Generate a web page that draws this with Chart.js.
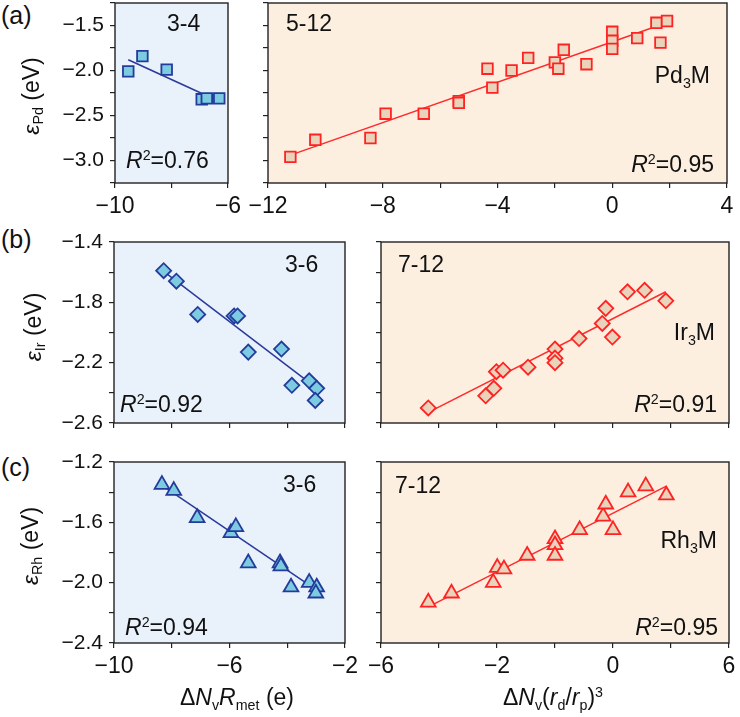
<!DOCTYPE html>
<html>
<head>
<meta charset="utf-8">
<script src="https://cdn.jsdelivr.net/npm/chart.js@4.4.0/dist/chart.umd.min.js"></script>
<style>
  body { margin: 0; background: #fff; width: 740px; height: 717px; overflow: hidden; position: relative;
         font-family: "Liberation Sans", Arial, sans-serif; }
  canvas { position: absolute; }
  .t { position: absolute; white-space: nowrap; color: #111; line-height: 1; }
  .t sub { font-size: 0.62em; vertical-align: -0.32em; line-height: 0; }
  .t sup { font-size: 0.62em; vertical-align: 0.55em; line-height: 0; }
</style>
</head>
<body>
<script>
// (a) Pd3M, groups 3-4 and 5-12
const pdLowX = [-9.53, -9.03, -8.17, -6.93, -6.75, -6.31];
const pdLowY = [-2.01, -1.84, -1.99, -2.32, -2.31, -2.31];
const pdLowFitX = [-9.53, -6.96];
const pdLowFitY = [-1.88, -2.25];

const pdHighX = [-11.22, -10.35, -8.43, -7.90, -6.57, -5.35, -5.35, -4.35, -4.18, -3.51, -2.93,
                 -2.00, -1.88, -1.69, -0.90, 0, 0, 0, 0.87, 1.54, 1.68, 1.91];
const pdHighY = [-2.96, -2.77, -2.75, -2.48, -2.48, -2.34, -2.36, -1.98, -2.19, -2.00, -1.86,
                 -1.91, -1.98, -1.77, -1.93, -1.57, -1.67, -1.76, -1.64, -1.47, -1.69, -1.45];
const pdHighFitX = [-11.22, 1.89];
const pdHighFitY = [-2.94, -1.47];

// (b) Ir3M, groups 3-6 and 7-12
const irLowX = [-8.28, -7.84, -7.10, -5.84, -5.72, -5.35, -4.20, -3.84, -3.24, -2.98, -3.03];
const irLowY = [-1.59, -1.66, -1.88, -1.89, -1.89, -2.13, -2.11, -2.35, -2.32, -2.37, -2.45];
const irLowFitX = [-8.18, -3.04];
const irLowFitY = [-1.61, -2.36];

const irHighX = [-4.37, -2.39, -2.11, -2.02, -1.79, -0.93, 0, 0, 0, 0.83, 1.63, 1.75, 1.98, 2.50, 3.09, 3.82];
const irHighY = [-2.50, -2.42, -2.37, -2.26, -2.25, -2.23, -2.11, -2.17, -2.20, -2.04, -1.94, -1.84, -2.03, -1.73, -1.72, -1.79];
const irHighFitX = [-4.37, 3.82];
const irHighFitY = [-2.53, -1.73];

// (c) Rh3M, groups 3-6 and 7-12
const rhLowX = [-8.34, -7.93, -7.12, -5.95, -5.78, -5.35, -4.25, -4.22, -3.87, -3.24, -2.98, -3.01];
const rhLowY = [-1.35, -1.39, -1.57, -1.67, -1.63, -1.87, -1.87, -1.89, -2.03, -2.00, -2.03, -2.07];
const rhLowFitX = [-8.30, -2.98];
const rhLowFitY = [-1.36, -2.05];

const rhHighX = [-4.37, -3.57, -2.13, -1.99, -1.76, -0.96, 0, 0, 0, 0.85, 1.66, 1.75, 2.00, 2.52, 3.13, 3.84];
const rhHighY = [-2.13, -2.07, -2.00, -1.90, -1.91, -1.82, -1.71, -1.75, -1.82, -1.65, -1.56, -1.48, -1.65, -1.40, -1.36, -1.42];
const rhHighFitX = [-4.37, 3.84];
const rhHighFitY = [-2.16, -1.36];

// tick labels (value -> text)
const pdYTickVals = [-3.0, -2.5, -2.0, -1.5];
const pdYTickText = ['−3.0', '−2.5', '−2.0', '−1.5'];
const irYTickVals = [-2.6, -2.2, -1.8, -1.4];
const irYTickText = ['−2.6', '−2.2', '−1.8', '−1.4'];
const rhYTickVals = [-2.4, -2.0, -1.6, -1.2];
const rhYTickText = ['−2.4', '−2.0', '−1.6', '−1.2'];
const pdLowXTickVals = [-10, -6];
const pdLowXTickText = ['−10', '−6'];
const pdHighXTickVals = [-12, -8, -4, 0, 4];
const pdHighXTickText = ['−12', '−8', '−4', '0', '4'];
const lowXTickVals = [-10, -6, -2];
const lowXTickText = ['−10', '−6', '−2'];
const highXTickVals = [-6, -2, 2, 6];
const highXTickText = ['−6', '−2', '0', '6'];

const FONT = '"Liberation Sans", Arial, sans-serif';
const BLUE = { bg: '#e9f1fa', fill: '#7dcbe1', edge: '#233c9c', line: '#2a3a9c' };
const RED = { bg: '#fdefe0', fill: '#ead3bb', edge: '#ff2222', line: '#ff2a2a' };
const ML = 70, MT = 12, MR = 24, MB = 40;

const panelPlugin = {
  id: 'panel',
  beforeDraw(chart, args, o) {
    const a = chart.chartArea, ctx = chart.ctx;
    ctx.save();
    ctx.fillStyle = o.bg;
    ctx.fillRect(a.left, a.top, a.right - a.left, a.bottom - a.top);
    ctx.restore();
  },
  afterDraw(chart) {
    const a = chart.chartArea, ctx = chart.ctx;
    ctx.save();
    ctx.strokeStyle = '#222';
    ctx.lineWidth = 1.4;
    ctx.strokeRect(a.left, a.top, a.right - a.left, a.bottom - a.top);
    ctx.restore();
  }
};

function pts(xs, ys) { return xs.map((x, i) => ({ x: x, y: ys[i] })); }

function axis(a, isX) {
  return {
    type: 'linear', min: a.min, max: a.max,
    ticks: {
      stepSize: a.step, autoSkip: false, maxRotation: 0, minRotation: 0, color: '#111', padding: isX ? 5 : 6,
      font: { family: FONT, size: isX ? 23 : 21 },
      callback: v => {
        const vals = a.vals || [];
        const i = vals.findIndex(t => Math.abs(t - v) < 1e-6);
        return i < 0 ? '' : a.texts[i];
      }
    },
    grid: { drawOnChartArea: false, drawTicks: true, tickLength: 5, tickColor: '#222', lineWidth: 1.2 },
    border: { display: false },
    afterFit: s => {
      if (isX) { s.height = MB; s.paddingLeft = 0; s.paddingRight = 0; }
      else { s.width = ML; s.paddingTop = 0; s.paddingBottom = 0; }
    }
  };
}

function panel(p) {
  const [l, t, r, b] = p.box;
  const w = r - l + ML + MR, h = b - t + MT + MB;
  const c = document.createElement('canvas');
  c.width = w; c.height = h;
  c.style.left = (l - ML) + 'px'; c.style.top = (t - MT) + 'px';
  c.style.width = w + 'px'; c.style.height = h + 'px';
  document.body.appendChild(c);
  new Chart(c, {
    type: 'scatter',
    data: {
      datasets: [
        { data: pts(p.xs, p.ys), pointStyle: p.shape, pointRadius: p.radius, pointHoverRadius: p.radius,
          pointBackgroundColor: p.theme.fill, pointBorderColor: p.theme.edge, pointBorderWidth: 1.8, showLine: false },
        { type: 'line', data: pts(p.fitX, p.fitY), borderColor: p.theme.line, borderWidth: 1.5,
          pointRadius: 0, showLine: true, fill: false }
      ]
    },
    options: {
      responsive: false, animation: false, devicePixelRatio: 1,
      layout: { padding: { left: 0, top: MT, right: MR, bottom: 0 } },
      plugins: { legend: { display: false }, tooltip: { enabled: false }, panel: { bg: p.theme.bg } },
      scales: { x: axis(p.x, true), y: axis(p.y, false) }
    },
    plugins: [panelPlugin]
  });
}

panel({ box: [115, 3, 228, 183], xs: pdLowX, ys: pdLowY, fitX: pdLowFitX, fitY: pdLowFitY, shape: 'rect', radius: 7.5, theme: BLUE,
  x: { min: -10, max: -6, step: 2, vals: pdLowXTickVals, texts: pdLowXTickText },
  y: { min: -3.25, max: -1.25, step: 0.25, vals: pdYTickVals, texts: pdYTickText } });
panel({ box: [268, 3, 727, 183], xs: pdHighX, ys: pdHighY, fitX: pdHighFitX, fitY: pdHighFitY, shape: 'rect', radius: 7.5, theme: RED,
  x: { min: -12, max: 4, step: 2, vals: pdHighXTickVals, texts: pdHighXTickText },
  y: { min: -3.25, max: -1.25, step: 0.25 } });
panel({ box: [114, 242, 345, 423], xs: irLowX, ys: irLowY, fitX: irLowFitX, fitY: irLowFitY, shape: 'rectRot', radius: 7.5, theme: BLUE,
  x: { min: -10, max: -2, step: 2 },
  y: { min: -2.6, max: -1.4, step: 0.2, vals: irYTickVals, texts: irYTickText } });
panel({ box: [381, 242, 729, 423], xs: irHighX, ys: irHighY, fitX: irHighFitX, fitY: irHighFitY, shape: 'rectRot', radius: 7.5, theme: RED,
  x: { min: -6, max: 6, step: 2 },
  y: { min: -2.6, max: -1.4, step: 0.2 } });
panel({ box: [114, 462, 345, 643], xs: rhLowX, ys: rhLowY, fitX: rhLowFitX, fitY: rhLowFitY, shape: 'triangle', radius: 8.5, theme: BLUE,
  x: { min: -10, max: -2, step: 2, vals: lowXTickVals, texts: lowXTickText },
  y: { min: -2.4, max: -1.2, step: 0.2, vals: rhYTickVals, texts: rhYTickText } });
panel({ box: [381, 462, 729, 643], xs: rhHighX, ys: rhHighY, fitX: rhHighFitX, fitY: rhHighFitY, shape: 'triangle', radius: 8.5, theme: RED,
  x: { min: -6, max: 6, step: 2, vals: highXTickVals, texts: highXTickText },
  y: { min: -2.4, max: -1.2, step: 0.2 } });

// text labels
function txt(html, x, base, size, align) {
  const d = document.createElement('div');
  d.className = 't'; d.innerHTML = html; d.style.fontSize = size + 'px';
  d.style.top = (base - 0.847 * size) + 'px';
  if (align === 'right') d.style.right = (740 - x) + 'px';
  else if (align === 'center') { d.style.left = x + 'px'; d.style.transform = 'translateX(-50%)'; }
  else d.style.left = x + 'px';
  document.body.appendChild(d);
}
function vtxt(html, cx, cy, size) {
  const d = document.createElement('div');
  d.className = 't'; d.innerHTML = html; d.style.fontSize = size + 'px';
  d.style.left = cx + 'px'; d.style.top = cy + 'px';
  d.style.transform = 'translate(-50%,-50%) rotate(-90deg)';
  document.body.appendChild(d);
}

txt('(a)', 1, 24, 25); txt('(b)', 1, 248, 25); txt('(c)', 1, 476, 25);

txt('3-4', 167, 31, 23);
txt('<i>R</i><sup>2</sup>=0.76', 126, 168, 23);
txt('5-12', 286, 31, 23);
txt('Pd<sub>3</sub>M', 710, 83, 23, 'right');
txt('<i>R</i><sup>2</sup>=0.95', 714, 172, 23, 'right');

txt('3-6', 285, 272, 23);
txt('<i>R</i><sup>2</sup>=0.92', 120, 412, 23);
txt('7-12', 398, 272, 23);
txt('Ir<sub>3</sub>M', 715, 340, 23, 'right');
txt('<i>R</i><sup>2</sup>=0.91', 717, 412, 23, 'right');

txt('3-6', 283, 492, 23);
txt('<i>R</i><sup>2</sup>=0.94', 125, 635, 23);
txt('7-12', 395, 493, 23);
txt('Rh<sub>3</sub>M', 717, 548, 23, 'right');
txt('<i>R</i><sup>2</sup>=0.95', 718, 635, 23, 'right');

vtxt('<i>ε</i><sub>Pd</sub> (eV)', 31, 96, 23);
vtxt('<i>ε</i><sub>Ir</sub> (eV)', 33, 327, 23);
vtxt('<i>ε</i><sub>Rh</sub> (eV)', 30, 546, 23);

txt('Δ<i>N</i><sub>v</sub><i>R</i><sub>met</sub> (e)', 237, 705, 23, 'center');
txt('Δ<i>N</i><sub>v</sub>(<i>r</i><sub>d</sub>/<i>r</i><sub>p</sub>)<sup>3</sup>', 553, 705, 23, 'center');
</script>
</body>
</html>
